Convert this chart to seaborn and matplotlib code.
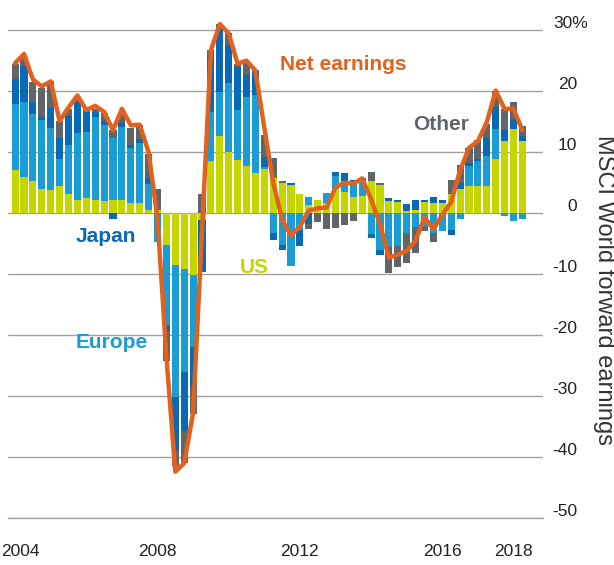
import numpy as np
import pandas as pd
import matplotlib
matplotlib.use("Agg")
import matplotlib.pyplot as plt
import matplotlib.transforms as mtransforms
import seaborn as sns

# quarterly contributions to MSCI World forward earnings growth (% pts)
quarters = pd.period_range("2004Q1", "2018Q2", freq="Q")

us = [7.1, 6.0, 5.2, 3.9, 3.8, 4.4, 3.2, 2.2, 2.5, 2.1,
      2.0, 2.1, 2.2, 1.6, 1.6, 0.5, 0.5, -5.2, -8.5, -9.1,
      -10.2, -1.2, 8.6, 12.6, 10.1, 8.7, 7.8, 6.5, 7.3, 5.7,
      4.9, 4.6, 3.2, 1.3, 2.1, 1.7, 3.9, 3.5, 2.7, 2.8,
      5.2, 4.6, 2.0, 1.9, 0.4, 0.5, 1.9, 1.7, 1.6, 3.2,
      4.0, 4.4, 4.5, 4.5, 8.9, 11.9, 13.8, 11.8]
europe = [10.8, 12.2, 11.1, 11.3, 10.1, 4.4, 7.9, 10.9, 10.8, 13.7,
          12.4, 10.3, 12.0, 9.1, 9.9, 4.3, -4.7, -13.1, -21.6, -16.9,
          -11.7, 0.0, 8.0, 7.3, 11.2, 8.2, 11.2, 12.8, 0.3, -3.2,
          -5.3, -8.7, -2.7, 1.3, 0.0, 1.6, 2.2, 1.8, 2.0, 2.6,
          -3.4, -6.1, -5.6, -5.4, -3.3, -2.2, -2.1, -3.2, -3.0, -2.8,
          -0.9, 3.3, 4.0, 4.9, 4.9, -0.4, -1.3, -1.0]
japan = [4.1, 5.9, 2.0, 0.5, 3.4, 3.6, 4.8, 5.1, 3.3, 0.8,
         0.7, -1.0, 0.5, 0.5, 0.7, 1.0, 0.0, -1.1, -8.7, -9.8,
         -6.6, -8.5, 9.0, 10.1, 6.3, 7.1, 3.7, 3.8, 1.6, -1.2,
         -0.7, 0.4, -2.7, -1.8, 0.0, 0.0, 0.7, 1.2, 0.7, 0.3,
         -0.7, -0.7, 0.4, 0.3, 1.1, 1.6, 0.3, 0.9, 0.6, -0.8,
         0.9, 0.5, 0.3, 3.0, 3.6, 1.7, 1.6, 0.9]
other = [2.5, 1.5, 3.2, 4.9, 4.3, 2.7, 1.2, 0.8, 0.5, 0.5,
         1.3, 1.2, 1.8, 2.8, 2.2, 3.9, 3.5, -4.9, -2.7, -5.2,
         -4.4, 3.2, 1.1, 1.0, 1.9, 0.5, 1.9, 0.3, 3.6, 3.3,
         0.4, 0.0, 0.0, -0.8, -1.5, -2.6, -2.5, -2.0, -1.3, 0.0,
         1.5, 0.3, -4.3, -3.4, -4.9, -4.4, -0.8, -1.5, 0.0, 2.3,
         3.0, 2.4, 3.2, 2.2, 2.6, 3.4, 2.9, 1.6]
net = [24.6, 26.1, 21.9, 20.8, 21.6, 15.1, 17.3, 19.3, 16.9, 17.6,
       16.6, 13.6, 17.1, 14.4, 14.5, 10.0, -1.0, -23.5, -42.4, -41.0,
       -32.8, -3.0, 26.7, 31.0, 29.5, 24.5, 25.0, 23.4, 14.0, 5.0,
       -1.0, -3.7, -2.2, 0.4, 0.8, 0.9, 4.2, 5.0, 4.8, 5.7,
       2.3, -1.8, -7.3, -6.8, -6.2, -4.5, -0.7, -2.6, -0.3, 1.8,
       7.0, 10.7, 11.8, 14.9, 20.1, 17.1, 17.1, 13.6]

year_ticks = [2004, 2008, 2012, 2016, 2018]
y_ticks = [30, 20, 10, 0, -10, -20, -30, -40, -50]
y_labels = ["30%", "20", "10", "0", "-10", "-20", "-30", "-40", "-50"]

c_us = "#C5D500"
c_eu = "#1A9CD4"
c_jp = "#0A69B4"
c_ot = "#60656A"
c_net = "#E2621D"

sns.set_style("white")
plt.rcParams["font.family"] = ["Liberation Sans", "DejaVu Sans"]

x = np.array(quarters.year) + (np.array(quarters.quarter) - 1) / 4

fig = plt.figure(figsize=(6.14, 5.65), dpi=100)
ax = fig.add_axes([8 / 614, 47 / 565, 535 / 614, 500 / 565])

# diverging stacked bars: positives stack up, negatives stack down
pos_bottom = np.zeros(len(x))
neg_bottom = np.zeros(len(x))
for vals, col in [(us, c_us), (europe, c_eu), (japan, c_jp), (other, c_ot)]:
    v = np.array(vals)
    pos = np.where(v > 0, v, 0)
    neg = np.where(v < 0, v, 0)
    ax.bar(x, pos, bottom=pos_bottom, width=0.2, color=col, linewidth=0)
    ax.bar(x, neg, bottom=neg_bottom, width=0.2, color=col, linewidth=0)
    pos_bottom += pos
    neg_bottom += neg

sns.lineplot(x=x, y=net, ax=ax, color=c_net, linewidth=3.2,
             solid_joinstyle="round", solid_capstyle="round")

ax.set_xlim(2003.8, 2018.83)
ax.set_ylim(-50, 32)
ax.set_xticks(year_ticks)
ax.set_xticklabels([str(y) for y in year_ticks])
ax.set_yticks(y_ticks)
ax.set_yticklabels(y_labels)
ax.yaxis.tick_right()

ax.grid(axis="y", color="#a0a0a0", linewidth=1)
ax.grid(axis="x", visible=False)
ax.set_axisbelow(True)
for s in ["top", "left", "right"]:
    ax.spines[s].set_visible(False)
ax.spines["bottom"].set_color("#a0a0a0")
ax.spines["bottom"].set_linewidth(1)

ax.tick_params(axis="x", length=11, width=1, color="#a0a0a0", direction="out",
               labelsize=12.5, pad=8, labelcolor="#222222")
ax.tick_params(axis="y", length=0, labelsize=12.5, pad=24.5, labelcolor="#222222")
for t in ax.yaxis.get_major_ticks():
    lbl = t.label2
    lbl.set_ha("right")
    lbl.set_va("baseline")
    dx = 11 / 100 if lbl.get_text() == "30%" else 0
    lbl.set_transform(lbl.get_transform() +
                      mtransforms.ScaledTranslation(dx, 2 / 100, fig.dpi_scale_trans))
# keep the first year label inside the picture
first = ax.xaxis.get_major_ticks()[0].label1
first.set_transform(first.get_transform() +
                    mtransforms.ScaledTranslation(5 / 100, 0, fig.dpi_scale_trans))

# series labels
ax.text(2011.44, 24.3, "Net earnings", color=c_net, fontsize=15, fontweight="bold", va="center")
ax.text(2015.18, 14.6, "Other", color=c_ot, fontsize=15, fontweight="bold", va="center")
ax.text(2005.69, -3.8, "Japan", color=c_jp, fontsize=15, fontweight="bold", va="center")
ax.text(2010.32, -8.9, "US", color=c_us, fontsize=15, fontweight="bold", va="center")
ax.text(2005.69, -21.3, "Europe", color=c_eu, fontsize=15, fontweight="bold", va="center")

fig.text(0.984, 0.487, "MSCI World forward earnings", rotation=270,
         ha="center", va="center", fontsize=17, color="#333333")

fig.savefig("out.png", dpi=100)
